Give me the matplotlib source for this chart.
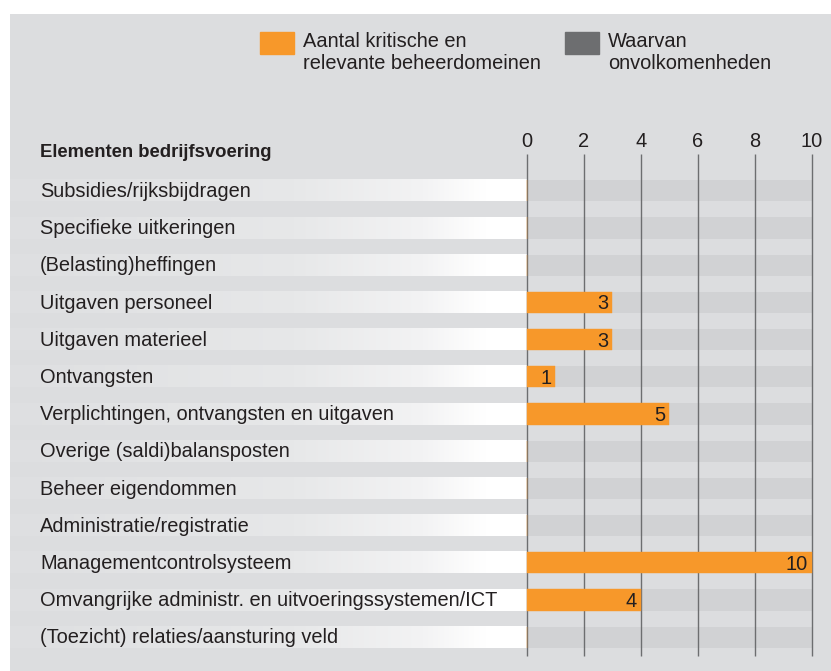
import numpy as np
import matplotlib.pyplot as plt
from matplotlib.colors import LinearSegmentedColormap
from matplotlib.patches import Rectangle

# data
elementen = [
    "Subsidies/rijksbijdragen",
    "Specifieke uitkeringen",
    "(Belasting)heffingen",
    "Uitgaven personeel",
    "Uitgaven materieel",
    "Ontvangsten",
    "Verplichtingen, ontvangsten en uitgaven",
    "Overige (saldi)balansposten",
    "Beheer eigendommen",
    "Administratie/registratie",
    "Managementcontrolsysteem",
    "Omvangrijke administr. en uitvoeringssystemen/ICT",
    "(Toezicht) relaties/aansturing veld",
]
kritisch = [0, 0, 0, 3, 3, 1, 5, 0, 0, 0, 10, 4, 0]
onvolkomen = [0, 0, 0, 0, 0, 0, 0, 0, 0, 0, 0, 0, 0]
x_ticks = [0, 2, 4, 6, 8, 10]
legend_labels = ["Aantal kritische en\nrelevante beheerdomeinen",
                 "Waarvan\nonvolkomenheden"]

ORANGE = "#f7982a"
DARK = "#6d6e70"
BG = "#dcdddf"
BAND = "#d1d2d4"
TXT = "#231f20"
FONT = "Liberation Sans"
FS = 14.4

W, H = 831, 671
fig = plt.figure(figsize=(W / 100, H / 100), dpi=100)
fig.patch.set_facecolor("white")

# grey panel
panel_l, panel_t = 10, 14
ax = fig.add_axes([panel_l / W, 0, 1 - panel_l / W, 1 - panel_t / H])
ax.set_facecolor(BG)
for s in ax.spines.values():
    s.set_visible(False)
ax.set_xticks([])
ax.set_yticks([])

# pixel mapping: value 0 at x=527, 10 at x=812; row 0 at y=190.8, pitch 37.2
x0, unit = 527, 28.5
y0, pitch = 190.8, 37.2
ax.set_xlim((panel_l - x0) / unit, (W - x0) / unit)
ax.set_ylim((H - y0) / pitch, (panel_t - y0) / pitch)

n = len(elementen)
rows = np.arange(n)
bh = 0.575
xmin = (panel_l - x0) / unit
xlab = xmin + (40 - panel_l) / unit

# label bands with gradient to white
cmap = LinearSegmentedColormap.from_list(
    "fade", [(0, "#dedfe1"), (0.55, "#e7e8e9"), (0.8, "#f3f3f4"), (0.92, "white"), (1, "white")])
grad = np.linspace(0, 1, 256).reshape(1, -1)
for r in rows:
    ax.imshow(grad, cmap=cmap, aspect="auto", extent=(xmin, 0, r + bh / 2, r - bh / 2),
              interpolation="bilinear", zorder=1)
    ax.text(xlab, r + 0.02, elementen[r], fontsize=FS, color=TXT,
            family=FONT, va="center", ha="left", zorder=5)

# data bands
ax.barh(rows, 10, height=bh, left=0, color=BAND, zorder=1)
ax.vlines(x_ticks, -0.99, 12.5, color=DARK, lw=1, zorder=2)
ax.barh(rows, kritisch, height=bh, color=ORANGE, edgecolor=ORANGE, lw=0.3, zorder=3)
ax.barh(rows, onvolkomen, height=bh, color=DARK, lw=0, zorder=4)

for r, v in zip(rows, kritisch):
    if v > 0:
        ax.text(v - 4 / unit, r + 0.04, str(v), fontsize=FS, color=TXT, family=FONT,
                ha="right", va="center", zorder=5)

for t in x_ticks:
    ax.text(t, -1.33, str(t), fontsize=FS, color=TXT, family=FONT,
            ha="center", va="center")

ax.text(xlab, -1.02, "Elementen bedrijfsvoering", fontsize=13.3,
        fontweight="bold", color=TXT, family=FONT, va="center", ha="left")

# legend
for (lx, col), lab in zip([(260, ORANGE), (565, DARK)], legend_labels):
    fig.patches.append(Rectangle((lx / W, 1 - 54 / H), 34 / W, 22 / H,
                                 transform=fig.transFigure, color=col))
    fig.text((lx + 43) / W, 1 - 32 / H, lab, fontsize=FS, color=TXT, family=FONT,
             va="top", ha="left", linespacing=1.2)

fig.savefig("out.png", dpi=100)
